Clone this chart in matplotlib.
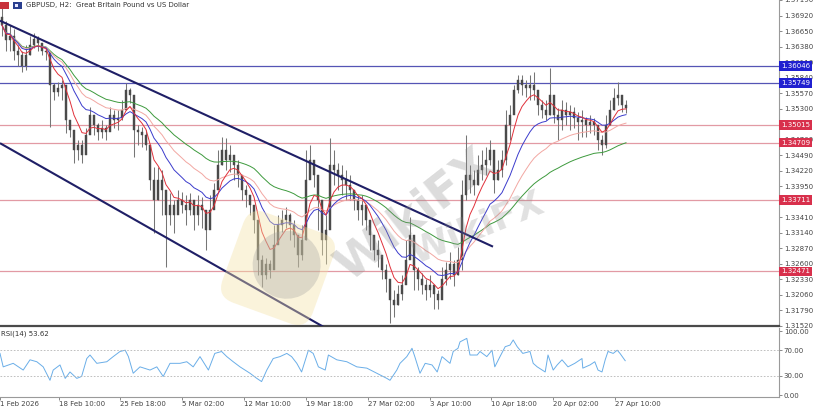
import matplotlib
matplotlib.use("Agg")
import matplotlib.pyplot as plt
import numpy as np
import pandas as pd
from matplotlib.patches import FancyBboxPatch, Circle, Rectangle
import matplotlib.transforms as mtransforms

# ---------------- data ----------------
title = "GBPUSD, H2:  Great Britain Pound vs US Dollar"
first_open = 1.3690
close = [1.3675, 1.3649, 1.3657, 1.3631, 1.3623, 1.3605, 1.3623, 1.3640, 1.3652, 1.3645,
         1.3631, 1.3628, 1.3571, 1.3559, 1.3566, 1.3571, 1.3510, 1.3493, 1.3458, 1.3467,
         1.3449, 1.3484, 1.3519, 1.3501, 1.3489, 1.3496, 1.3489, 1.3519, 1.3510, 1.3513,
         1.3527, 1.3562, 1.3553, 1.3493, 1.3489, 1.3484, 1.3467, 1.3406, 1.3371, 1.3406,
         1.3389, 1.3345, 1.3363, 1.3345, 1.3371, 1.3363, 1.3354, 1.3371, 1.3345, 1.3363,
         1.3354, 1.3319, 1.3354, 1.3389, 1.3432, 1.3458, 1.3441, 1.3449, 1.3432, 1.3415,
         1.3389, 1.3380, 1.3363, 1.3337, 1.3267, 1.3241, 1.3259, 1.3250, 1.3293, 1.3328,
         1.3337, 1.3345, 1.3328, 1.3311, 1.3276, 1.3302, 1.3406, 1.3441, 1.3415, 1.3371,
         1.3302, 1.3319, 1.3432, 1.3423, 1.3415, 1.3406, 1.3397, 1.3389, 1.3371, 1.3354,
         1.3363, 1.3337, 1.3311, 1.3285, 1.3276, 1.3250, 1.3233, 1.3198, 1.3189, 1.3207,
         1.3224, 1.3267, 1.3311, 1.3250, 1.3233, 1.3224, 1.3215, 1.3224, 1.3207, 1.3198,
         1.3233, 1.3250, 1.3259, 1.3241, 1.3267, 1.3380, 1.3415, 1.3406, 1.3397, 1.3423,
         1.3432, 1.3441, 1.3458, 1.3406, 1.3423, 1.3441, 1.3501, 1.3519, 1.3562, 1.3579,
         1.3571, 1.3566, 1.3571, 1.3562, 1.3536, 1.3527, 1.3519, 1.3553, 1.3519, 1.3510,
         1.3527, 1.3519, 1.3524, 1.3513, 1.3507, 1.3510, 1.3501, 1.3507, 1.3501, 1.3475,
         1.3467, 1.3501, 1.3527, 1.3548, 1.3553, 1.3536, 1.3531]
high = [1.3713, 1.3683, 1.3675, 1.3669, 1.3640, 1.3631, 1.3640, 1.3657, 1.3661, 1.3657,
        1.3640, 1.3637, 1.3623, 1.3574, 1.3576, 1.3579, 1.3562, 1.3505, 1.3484, 1.3475,
        1.3475, 1.3496, 1.3533, 1.3519, 1.3505, 1.3510, 1.3501, 1.3533, 1.3527, 1.3527,
        1.3545, 1.3574, 1.3566, 1.3553, 1.3501, 1.3498, 1.3493, 1.3467, 1.3429, 1.3429,
        1.3423, 1.3380, 1.3383, 1.3371, 1.3389, 1.3385, 1.3380, 1.3383, 1.3371, 1.3380,
        1.3377, 1.3354, 1.3380, 1.3401, 1.3458, 1.3481, 1.3479, 1.3467, 1.3449, 1.3441,
        1.3406, 1.3397, 1.3380, 1.3363, 1.3328, 1.3276, 1.3271, 1.3267, 1.3328, 1.3345,
        1.3354, 1.3359, 1.3349, 1.3337, 1.3311, 1.3328, 1.3458, 1.3467, 1.3432, 1.3415,
        1.3363, 1.3345, 1.3479, 1.3458, 1.3436, 1.3432, 1.3423, 1.3415, 1.3389, 1.3380,
        1.3380, 1.3363, 1.3328, 1.3311, 1.3302, 1.3267, 1.3259, 1.3224, 1.3215, 1.3224,
        1.3241, 1.3302, 1.3342, 1.3302, 1.3254, 1.3245, 1.3233, 1.3241, 1.3224, 1.3215,
        1.3255, 1.3264, 1.3280, 1.3267, 1.3290, 1.3406, 1.3484, 1.3432, 1.3423, 1.3449,
        1.3458, 1.3463, 1.3475, 1.3449, 1.3441, 1.3458, 1.3527, 1.3536, 1.3571, 1.3588,
        1.3588, 1.3579, 1.3588, 1.3593, 1.3553, 1.3545, 1.3545, 1.3600, 1.3545, 1.3531,
        1.3545, 1.3541, 1.3536, 1.3533, 1.3524, 1.3527, 1.3515, 1.3519, 1.3513, 1.3501,
        1.3484, 1.3519, 1.3545, 1.3566, 1.3576, 1.3553, 1.3545]
low = [1.3657, 1.3631, 1.3631, 1.3614, 1.3605, 1.3593, 1.3597, 1.3623, 1.3635, 1.3631,
       1.3623, 1.3614, 1.3498, 1.3545, 1.3552, 1.3545, 1.3488, 1.3481, 1.3436, 1.3441,
       1.3436, 1.3467, 1.3498, 1.3484, 1.3475, 1.3479, 1.3475, 1.3493, 1.3496, 1.3493,
       1.3510, 1.3536, 1.3540, 1.3446, 1.3467, 1.3463, 1.3458, 1.3389, 1.3314, 1.3371,
       1.3345, 1.3255, 1.3328, 1.3314, 1.3354, 1.3349, 1.3328, 1.3345, 1.3319, 1.3328,
       1.3323, 1.3285, 1.3328, 1.3363, 1.3406, 1.3432, 1.3423, 1.3420, 1.3406, 1.3394,
       1.3371, 1.3359, 1.3345, 1.3314, 1.3241, 1.3219, 1.3233, 1.3236, 1.3259, 1.3302,
       1.3316, 1.3323, 1.3302, 1.3290, 1.3255, 1.3267, 1.3302, 1.3415, 1.3394, 1.3319,
       1.3276, 1.3259, 1.3371, 1.3397, 1.3389, 1.3380, 1.3371, 1.3371, 1.3354, 1.3337,
       1.3328, 1.3319, 1.3285, 1.3267, 1.3255, 1.3233, 1.3212, 1.3158, 1.3167, 1.3189,
       1.3198, 1.3233, 1.3276, 1.3215, 1.3215, 1.3207, 1.3198, 1.3203, 1.3181, 1.3181,
       1.3207, 1.3224, 1.3233, 1.3221, 1.3241, 1.3250, 1.3371, 1.3383, 1.3380, 1.3397,
       1.3406, 1.3415, 1.3432, 1.3383, 1.3406, 1.3411, 1.3432, 1.3475, 1.3524, 1.3557,
       1.3553, 1.3550, 1.3545, 1.3545, 1.3519, 1.3513, 1.3510, 1.3519, 1.3505, 1.3475,
       1.3493, 1.3501, 1.3493, 1.3496, 1.3475, 1.3481, 1.3481, 1.3488, 1.3484, 1.3458,
       1.3449, 1.3462, 1.3501, 1.3527, 1.3536, 1.3524, 1.3522]

# support / resistance levels
blue_levels = [1.36046, 1.35749]
red_levels = [1.35015, 1.34709, 1.33711, 1.32471]

# channel trend lines: (bar index, price) end points
upper_channel = [(-0.5, 1.3683), (122.75, 1.3290)]
lower_channel = [(-0.5, 1.3470), (80.5, 1.3150)]

# moving average spans (in bars of this series)
ma_red, ma_blue, ma_salmon, ma_green = 6, 15, 27, 50

# RSI(14) readings: bar position and value
rsi_pos = [-0.5, 0.3, 2.8, 5.3, 7, 8.7, 10.3, 12, 12.8, 14.5, 15.8, 17, 18.7, 19.9, 21.2, 22,
           23.7, 26.2, 27.8, 29.5, 30.8, 31.6, 32.8, 34.5, 37, 38.7, 40.3, 42, 44.5, 46.2,
           47.8, 49.5, 51.6, 53.2, 54.9, 56.2, 57.8, 59.5, 62, 63.7, 64.9, 66.2, 67.8, 69.5,
           71.2, 72.4, 73.7, 74.9, 76.6, 77.8, 79.1, 80.8, 81.6, 83.7, 86.2, 88.7, 91.2, 93.7,
           96.2, 97, 98.7, 99.5, 101.2, 102.5, 103.2, 104.5, 105.8, 107.5, 108.8, 110, 112,
           112.8, 114, 114.5, 116.2, 117, 118.8, 119.5, 121.2, 122.5, 123.2, 124.5, 125.8,
           127, 127.8, 128.8, 130.2, 132, 132.8, 133.8, 135.8, 136.5, 137.8, 138.8, 140,
           141.5, 143.2, 145, 145.2, 147, 148.2, 149, 150, 150.8, 151.5, 152.8, 153.8, 154.5,
           155.8]
rsi_val = [65, 44, 49.5, 39, 55, 52, 44, 23, 39, 47, 26, 36, 26, 29, 57, 62.5,
           49.5, 52, 60, 68, 70, 60, 34, 44, 39, 44, 29, 49.5, 49.5, 52,
           44, 60, 39, 65, 68, 60, 52, 44, 34, 26, 21, 39, 57, 60,
           65, 60, 49.5, 36, 70, 65, 44, 39, 62.5, 55, 52, 44, 42, 34,
           26, 23, 39, 49.5, 60, 73, 60, 34, 49.5, 47, 36, 60, 49.5,
           68, 73, 83, 88.5, 62.5, 62.5, 68, 60, 70, 44, 60, 75.5,
           78, 86, 75.5, 65, 68, 49.5, 44, 36, 62.5, 39, 47, 55,
           44, 49.5, 57, 42, 47, 52, 39, 36, 55, 68, 65, 70, 65,
           53.62]
rsi_last = 53.62

date_pos = [-0.5, 14.25, 29.5, 45, 60.5, 76, 91.4, 107, 122.25, 137.75, 153.25]
date_labels = ["1 Feb 2026", "18 Feb 10:00", "25 Feb 18:00", "5 Mar 02:00", "12 Mar 10:00",
               "19 Mar 18:00", "27 Mar 02:00", "3 Apr 10:00", "10 Apr 18:00", "20 Apr 02:00",
               "27 Apr 10:00"]

# ---------------- figure ----------------
W, H = 813, 408
plt.rcParams['font.family'] = ['DejaVu Sans']
fig = plt.figure(figsize=(W / 100, H / 100), dpi=100)
fig.patch.set_facecolor('white')

right_px = 779
ax = fig.add_axes([0, 1 - 326 / H, right_px / W, 326 / H])
rx = fig.add_axes([0, 1 - 397 / H, right_px / W, (397 - 328) / H])

n = len(close)
idx = np.arange(n)
opens = np.array([first_open] + close[:-1])
c = np.array(close)
hi = np.array(high)
lo = np.array(low)

xmax = (right_px - 2) / 4.0
for a in (ax, rx):
    a.set_xlim(-0.5, xmax)
    a.set_facecolor('white')
    a.spines['top'].set_visible(False)
    a.spines['left'].set_visible(False)
    a.spines['right'].set_color('#9a9a9a')
    a.spines['right'].set_linewidth(0.8)

ax.spines['bottom'].set_color('#4a4a4a')
ax.spines['bottom'].set_linewidth(1.6)
rx.spines['bottom'].set_color('#9a9a9a')
rx.spines['bottom'].set_linewidth(0.8)

ymax = 1.37180
ymin = 1.31530
ax.set_ylim(ymin, ymax)

# horizontal levels
for lv in blue_levels:
    ax.axhline(lv, color='#5555b5', lw=0.9, zorder=1)
for lv in red_levels:
    ax.axhline(lv, color='#e29aa4', lw=0.9, zorder=1)

# candles
ax.vlines(idx, lo, hi, color='#767676', lw=0.75, zorder=3)
body = c - opens
body = np.where(np.abs(body) < 0.00012, np.where(body >= 0, 0.00012, -0.00012), body)
ax.bar(idx, body, bottom=opens, width=0.45, color='#4a4a4a', edgecolor='#4a4a4a',
       linewidth=0.3, zorder=4)

# moving averages
s = pd.Series(c)
ax.plot(idx, s.ewm(span=ma_green).mean(), color='#3d9a3d', lw=0.7, zorder=5)
ax.plot(idx, s.ewm(span=ma_salmon).mean(), color='#f2a7a2', lw=0.7, zorder=5)
ax.plot(idx, s.ewm(span=ma_blue).mean(), color='#3b3bcc', lw=0.7, zorder=5)
ax.plot(idx, s.ewm(span=ma_red).mean(), color='#e0303a', lw=0.7, zorder=5)

# channel
for (x0, y0), (x1, y1) in (upper_channel, lower_channel):
    ax.plot([x0, x1], [y0, y1], color='#1f1f66', lw=1.5, zorder=6, solid_capstyle='butt')

# price axis (labels fully covered by level boxes are left blank, as in the reference)
ticks = np.arange(1.31520, 1.37200, 0.0027)
hidden = [1.35030, 1.33680]
ax.yaxis.tick_right()
ax.set_yticks(ticks)
ax.set_yticklabels(["" if any(abs(t - h) < 1e-6 for h in hidden) else f"{t:.5f}" for t in ticks])
ax.tick_params(axis='y', length=2.5, width=0.6, color='#777777', labelsize=5,
               labelcolor='#444444', pad=1)
ax.set_xticks([])

# level labels
for lv in blue_levels:
    ax.annotate(f"{lv:.5f}", xy=(1.0, lv), xycoords=('axes fraction', 'data'),
                xytext=(1.5, 0), textcoords='offset points', ha='left', va='center',
                fontsize=5, color='white', annotation_clip=False, zorder=10,
                bbox=dict(boxstyle='square,pad=0.25', fc='#2020d0', ec='none'))
for lv in red_levels:
    ax.annotate(f"{lv:.5f}", xy=(1.0, lv), xycoords=('axes fraction', 'data'),
                xytext=(1.5, 0), textcoords='offset points', ha='left', va='center',
                fontsize=5, color='white', annotation_clip=False, zorder=10,
                bbox=dict(boxstyle='square,pad=0.25', fc='#d8304c', ec='none'))

# RSI panel
rx.set_ylim(-3.1, 104.7)
rx.plot(rsi_pos, rsi_val, color='#6aaee8', lw=0.7)
for lv in (30, 70):
    rx.axhline(lv, color='#b5b5b5', lw=0.6, ls=(0, (2, 2)))
rx.yaxis.tick_right()
rx.set_yticks([0, 30, 70, 100])
rx.set_yticklabels(["0.00", "30.00", "70.00", "100.00"])
rx.tick_params(axis='y', length=2.5, width=0.6, color='#777777', labelsize=5,
               labelcolor='#444444', pad=1)
rx.set_xticks(date_pos)
rx.set_xticklabels(date_labels)
rx.tick_params(axis='x', length=2.5, width=0.6, color='#777777', labelsize=5,
               labelcolor='#444444', pad=0.5)
for lab in rx.get_xticklabels():
    lab.set_horizontalalignment('left')
rx.text(0.001, 0.92, f"RSI(14) {rsi_last:.2f}", transform=rx.transAxes, fontsize=5,
        color='#333333', va='center', ha='left')

# ---------------- overlay: title and watermark ----------------
top = fig.add_axes([0, 0, 1, 1], zorder=20)
top.set_xlim(0, W)
top.set_ylim(H, 0)
top.axis('off')
top.patch.set_alpha(0)
top.add_patch(Rectangle((0, 2), 9, 7, fc='#c8323c', ec='none'))
top.add_patch(Rectangle((13, 2), 9, 7, fc='#2a3f8f', ec='none'))
top.add_patch(Rectangle((15, 4), 3, 3, fc='#e8e8ff', ec='none'))
top.text(26, 5.5, title, fontsize=5, color='#333333', va='center', ha='left')

# watermark (semi-transparent, above chart)
wm_tr = mtransforms.Affine2D().rotate_deg_around(278, 268, 20) + top.transData
logo = FancyBboxPatch((230, 220), 96, 96, boxstyle='round,pad=0,rounding_size=18',
                      fc='#f3e2a6', ec='none', alpha=0.4, transform=wm_tr)
top.add_patch(logo)
top.add_patch(Circle((285, 262), 34, fc='#9a9a9a', ec='none', alpha=0.3, transform=wm_tr))
top.text(415, 215, "WikiFX", fontsize=34, fontweight='bold', color='#8c8c8c', alpha=0.3,
         rotation=38, ha='center', va='center')
top.text(478, 228, "WikiFX", fontsize=26, fontweight='bold', color='#8c8c8c', alpha=0.26,
         rotation=22, ha='center', va='center')

fig.savefig("out.png", dpi=100)
